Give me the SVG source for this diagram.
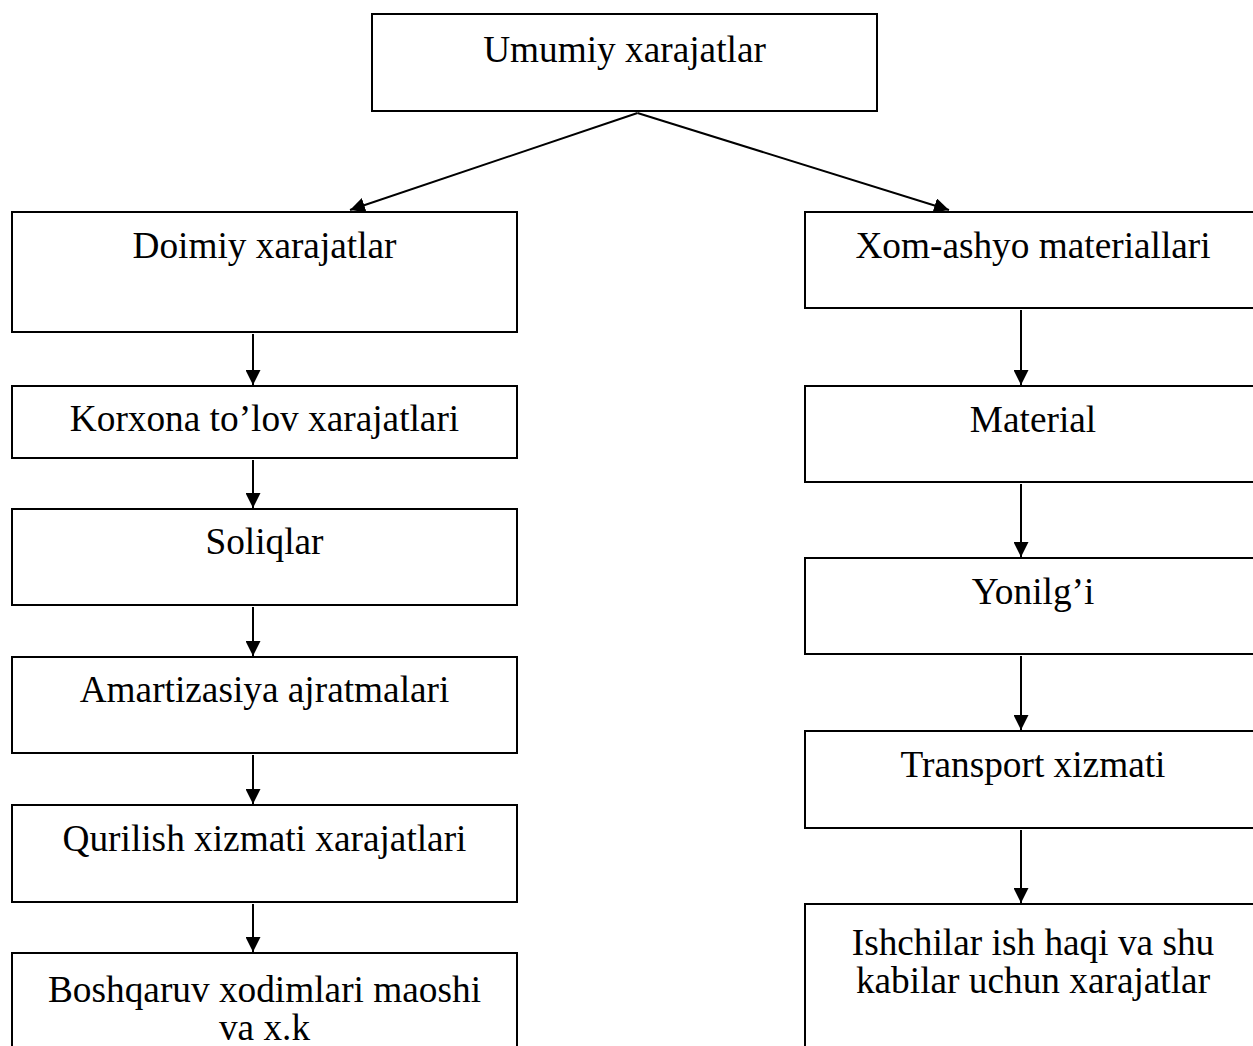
<svg xmlns="http://www.w3.org/2000/svg" width="1253" height="1046" viewBox="0 0 1253 1046">
<style>
.box{fill:#fff;stroke:#000;stroke-width:2}
.lbl{font-family:"Liberation Serif","Times New Roman",serif;font-size:37.3px;fill:#000;text-anchor:middle}
.conn{stroke:#000;stroke-width:2;fill:none;marker-end:url(#ah)}
</style>
<defs>
<marker id="ah" markerUnits="userSpaceOnUse" markerWidth="15" markerHeight="15" refX="15" refY="7.5" orient="auto">
<path d="M0,0 L15,7.5 L0,15 z" fill="#000"/>
</marker>
</defs>
<rect width="1253" height="1046" fill="#fff"/>
<g id="connectors">
<line class="conn" x1="637.5" y1="113" x2="350" y2="210"/>
<line class="conn" x1="637.5" y1="113" x2="949" y2="210"/>
<line class="conn" x1="253" y1="334" x2="253" y2="385"/>
<line class="conn" x1="253" y1="460" x2="253" y2="508"/>
<line class="conn" x1="253" y1="607" x2="253" y2="656"/>
<line class="conn" x1="253" y1="755" x2="253" y2="804"/>
<line class="conn" x1="253" y1="904" x2="253" y2="952"/>
<line class="conn" x1="1021" y1="310" x2="1021" y2="385"/>
<line class="conn" x1="1021" y1="484" x2="1021" y2="557"/>
<line class="conn" x1="1021" y1="656" x2="1021" y2="730"/>
<line class="conn" x1="1021" y1="830" x2="1021" y2="903"/>
</g>
<g id="umumiy">
<rect class="box" x="372" y="14" width="505" height="97"/>
<text class="lbl" x="624.5" y="62">Umumiy xarajatlar</text>
</g>
<g id="doimiy">
<rect class="box" x="12" y="212" width="505" height="120"/>
<text class="lbl" x="264.5" y="258">Doimiy xarajatlar</text>
</g>
<g id="korxona">
<rect class="box" x="12" y="386" width="505" height="72"/>
<text class="lbl" x="264.5" y="431">Korxona to’lov xarajatlari</text>
</g>
<g id="soliqlar">
<rect class="box" x="12" y="509" width="505" height="96"/>
<text class="lbl" x="264.5" y="554">Soliqlar</text>
</g>
<g id="amartizasiya">
<rect class="box" x="12" y="657" width="505" height="96"/>
<text class="lbl" x="264.5" y="702">Amartizasiya ajratmalari</text>
</g>
<g id="qurilish">
<rect class="box" x="12" y="805" width="505" height="97"/>
<text class="lbl" x="264.5" y="851">Qurilish xizmati xarajatlari</text>
</g>
<g id="boshqaruv">
<rect class="box" x="12" y="953" width="505" height="120"/>
<text class="lbl" x="264.5" y="1002">Boshqaruv xodimlari maoshi</text>
<text class="lbl" x="264.5" y="1040">va x.k</text>
</g>
<g id="xomashyo">
<rect class="box" x="805" y="212" width="457" height="96"/>
<text class="lbl" x="1033" y="258">Xom-ashyo materiallari</text>
</g>
<g id="material">
<rect class="box" x="805" y="386" width="457" height="96"/>
<text class="lbl" x="1033" y="432">Material</text>
</g>
<g id="yonilgi">
<rect class="box" x="805" y="558" width="457" height="96"/>
<text class="lbl" x="1033" y="604">Yonilg’i</text>
</g>
<g id="transport">
<rect class="box" x="805" y="731" width="457" height="97"/>
<text class="lbl" x="1033" y="777">Transport xizmati</text>
</g>
<g id="ishchilar">
<rect class="box" x="805" y="904" width="457" height="170"/>
<text class="lbl" x="1033" y="955">Ishchilar ish haqi va shu</text>
<text class="lbl" x="1033" y="993">kabilar uchun xarajatlar</text>
</g>
</svg>
